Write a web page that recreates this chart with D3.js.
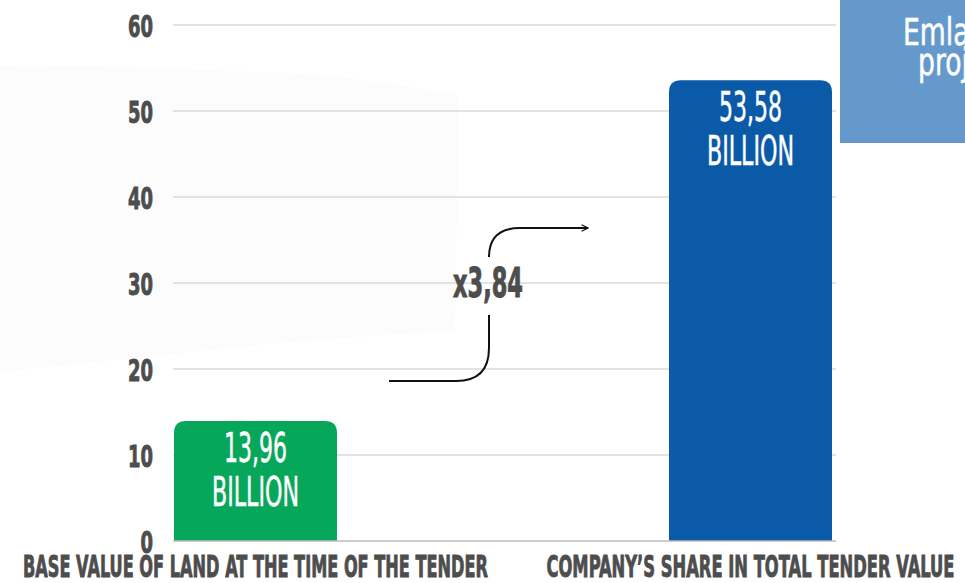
<!DOCTYPE html>
<html>
<head>
<meta charset="utf-8">
<script src="https://cdn.jsdelivr.net/npm/d3@7"></script>
<style>
  html, body { margin: 0; padding: 0; background: #ffffff; overflow: hidden; }
  svg { display: block; }
</style>
</head>
<body>
<svg id="chart" width="965" height="583"></svg>
<script>
// Chart data
const categories = [
  "BASE VALUE OF LAND AT THE TIME OF THE TENDER",
  "COMPANY'S SHARE IN TOTAL TENDER VALUE"
];
const values = [13.96, 53.58];
const valueLabels = ["13,96", "53,58"];
const unitLabel = "BILLION";
const yTicks = [0, 10, 20, 30, 40, 50, 60];
const multiplierLabel = "x3,84";
const sideNote = ["Emlak Konut", "projects"];

const W = 965, H = 583;
const svg = d3.select("#chart");

const heavyFont = "'Liberation Sans Narrow', 'DejaVu Sans Condensed', 'Roboto', sans-serif";
const textGray = "#4d4d4d";

// Scales
const y = d3.scaleLinear().domain([0, 60]).range([541, 25]);
const x = d3.scaleBand().domain(categories).range([174, 832])
  .paddingInner(0.6707).paddingOuter(0);

// Faint backdrop shape behind the left part of the plot
svg.append("path")
  .attr("d", "M0,66 C80,64 180,70 260,72 C340,74 420,88 458,96 L458,150 L455,330 C380,336 300,340 230,348 C150,356 60,366 0,372 Z")
  .attr("fill", "#fcfcfc");

// Gridlines
const gridX0 = 173, gridX1 = 836;
svg.append("g").selectAll("line")
  .data(yTicks.filter(d => d > 0))
  .join("line")
  .attr("x1", gridX0).attr("x2", gridX1)
  .attr("y1", d => y(d)).attr("y2", d => y(d))
  .attr("stroke", "#e3e3e3").attr("stroke-width", 2);

// Y tick labels
svg.append("g").selectAll("text")
  .data(yTicks)
  .join("text")
  .attr("x", 153)
  .attr("y", d => y(d) + 12)
  .attr("text-anchor", "end")
  .attr("font-family", heavyFont)
  .attr("font-weight", "bold")
  .attr("font-size", 31)
  .attr("fill", textGray)
  .attr("stroke", textGray)
  .attr("stroke-width", 0.9)
  .attr("textLength", d => String(d).length > 1 ? 25 : 12.5)
  .attr("lengthAdjust", "spacingAndGlyphs")
  .text(d => d);

// Bars with rounded top corners
const barColors = ["#07a75b", "#0a5aa8"];
const r = 12;
function topRoundedBar(x0, w, yTop, yBase) {
  return `M${x0},${yBase} L${x0},${yTop + r} Q${x0},${yTop} ${x0 + r},${yTop}` +
    ` L${x0 + w - r},${yTop} Q${x0 + w},${yTop} ${x0 + w},${yTop + r} L${x0 + w},${yBase} Z`;
}
svg.append("g").selectAll("path")
  .data(categories)
  .join("path")
  .attr("d", (c, i) => topRoundedBar(x(c), x.bandwidth(), y(values[i]), y(0)))
  .attr("fill", (c, i) => barColors[i]);

// Baseline
svg.append("line")
  .attr("x1", gridX0).attr("x2", gridX1)
  .attr("y1", y(0)).attr("y2", y(0))
  .attr("stroke", "#bdbdbd").attr("stroke-width", 1.5);

// Value labels inside bars
const lab = svg.append("g");
categories.forEach((c, i) => {
  const cx = x(c) + x.bandwidth() / 2;
  const top = y(values[i]);
  lab.append("text")
    .attr("x", cx).attr("y", top + 41)
    .attr("text-anchor", "middle")
    .attr("font-family", heavyFont)
    .attr("font-size", 40)
    .attr("fill", "#ffffff")
    .attr("stroke", "#ffffff")
    .attr("stroke-width", 0.5)
    .attr("textLength", 63)
    .attr("lengthAdjust", "spacingAndGlyphs")
    .text(valueLabels[i]);
  lab.append("text")
    .attr("x", cx).attr("y", top + 85)
    .attr("text-anchor", "middle")
    .attr("font-family", heavyFont)
    .attr("font-size", 40)
    .attr("fill", "#ffffff")
    .attr("stroke", "#ffffff")
    .attr("stroke-width", 0.5)
    .attr("textLength", 87)
    .attr("lengthAdjust", "spacingAndGlyphs")
    .text(unitLabel);
});

// Category labels
const catWidths = [465, 408];
svg.append("g").selectAll("text")
  .data(categories)
  .join("text")
  .attr("x", c => x(c) + x.bandwidth() / 2)
  .attr("y", 577)
  .attr("text-anchor", "middle")
  .attr("font-family", heavyFont)
  .attr("font-weight", "bold")
  .attr("font-size", 31)
  .attr("fill", textGray)
  .attr("stroke", textGray)
  .attr("stroke-width", 0.9)
  .attr("textLength", (c, i) => catWidths[i])
  .attr("lengthAdjust", "spacingAndGlyphs")
  .text(c => c.replace("'", "\u2019"));

// Growth arrow with multiplier
svg.append("defs").append("marker")
  .attr("id", "arrowhead")
  .attr("viewBox", "0 0 10 10")
  .attr("refX", 9).attr("refY", 5)
  .attr("markerWidth", 8).attr("markerHeight", 8)
  .attr("markerUnits", "userSpaceOnUse")
  .attr("orient", "auto")
  .append("path")
  .attr("d", "M1,1 L9,5 L1,9")
  .attr("fill", "none")
  .attr("stroke", "#111")
  .attr("stroke-width", 1.6);

svg.append("path")
  .attr("d", "M389,381 L456,381 Q489,381 489,348 L489,315")
  .attr("fill", "none").attr("stroke", "#111").attr("stroke-width", 2);
svg.append("path")
  .attr("d", "M489,257 Q489,228 520,228 L588,228")
  .attr("fill", "none").attr("stroke", "#111").attr("stroke-width", 2)
  .attr("marker-end", "url(#arrowhead)");

svg.append("text")
  .attr("x", 488).attr("y", 297)
  .attr("text-anchor", "middle")
  .attr("font-family", heavyFont)
  .attr("font-weight", "bold")
  .attr("font-size", 41)
  .attr("fill", textGray)
  .attr("stroke", textGray)
  .attr("stroke-width", 1)
  .attr("textLength", 70)
  .attr("lengthAdjust", "spacingAndGlyphs")
  .text(multiplierLabel);

// Side note panel (runs off the right edge)
svg.append("rect")
  .attr("x", 840).attr("y", 0)
  .attr("width", W - 840).attr("height", 143)
  .attr("fill", "#6599cb");
const noteX = [903, 918], noteY = [45, 75];
sideNote.forEach((t, i) => {
  svg.append("text")
    .attr("transform", `translate(${noteX[i]},${noteY[i]}) scale(0.8,1)`)
    .attr("font-family", heavyFont)
    .attr("font-size", 37)
    .attr("fill", "#ffffff")
    .attr("stroke", "#ffffff")
    .attr("stroke-width", 0.5)
    .text(t);
});
</script>
</body>
</html>
